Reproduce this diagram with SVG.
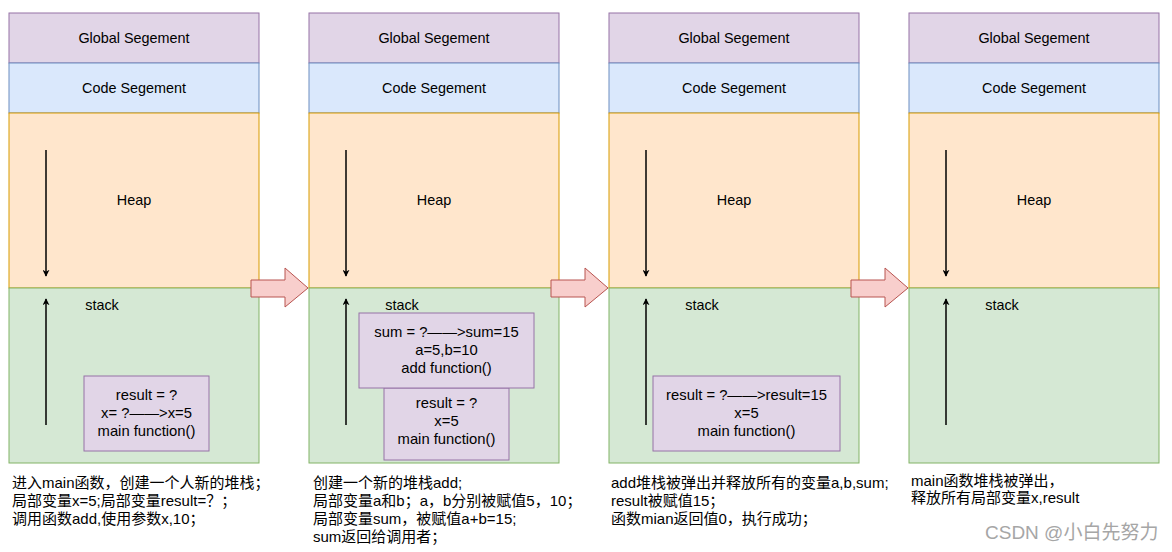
<svg xmlns="http://www.w3.org/2000/svg" width="1172" height="552" viewBox="0 0 1172 552">
<style>
text{font-family:"Liberation Sans","Noto Sans CJK SC",sans-serif;font-size:14.4px;fill:#000}
.c{text-anchor:middle;dominant-baseline:central}
.b{font-size:14.8px}
.g{fill:#e1d5e7;stroke:#9673a6}
.cd{fill:#dae8fc;stroke:#6c8ebf}
.h{fill:#ffe6cc;stroke:#d79b00}
.s{fill:#d5e8d4;stroke:#82b366}
.f{fill:#e1d5e7;stroke:#9673a6}
.fat{fill:#f8cecc;stroke:#b85450}
.ln{stroke:#000;stroke-width:1.5;fill:none;marker-end:url(#ah)}
.d{font-size:15px}
</style>
<defs>
<marker id="ah" viewBox="0 0 10 10" refX="9" refY="5" markerWidth="7" markerHeight="7" orient="auto" markerUnits="userSpaceOnUse">
<path d="M0,0 L10,5 L0,10 L3,5 Z" fill="#000"/>
</marker>
</defs>
<rect width="1172" height="552" fill="#fff"/>

<g id="col1">
<rect class="g" x="9" y="13" width="250" height="50"/><text class="c" x="134" y="38">Global Segement</text>
<rect class="cd" x="9" y="63" width="250" height="50"/><text class="c" x="134" y="88">Code Segement</text>
<rect class="h" x="9" y="113" width="250" height="175"/><text class="c" x="134" y="200">Heap</text>
<rect class="s" x="9" y="288" width="250" height="175"/><text class="c" x="102" y="305">stack</text>
<rect class="f" x="84" y="376" width="125" height="75"/>
<text class="c b" x="146.5" y="395">result = ?</text>
<text class="c b" x="146.5" y="413">x= ?——&gt;x=5</text>
<text class="c b" x="146.5" y="431">main function()</text>
</g>

<g id="col2">
<rect class="g" x="309" y="13" width="250" height="50"/><text class="c" x="434" y="38">Global Segement</text>
<rect class="cd" x="309" y="63" width="250" height="50"/><text class="c" x="434" y="88">Code Segement</text>
<rect class="h" x="309" y="113" width="250" height="175"/><text class="c" x="434" y="200">Heap</text>
<rect class="s" x="309" y="288" width="250" height="175"/><text class="c" x="402" y="305">stack</text>
<rect class="f" x="384" y="388" width="125" height="72"/>
<text class="c b" x="446.5" y="403">result = ?</text>
<text class="c b" x="446.5" y="421">x=5</text>
<text class="c b" x="446.5" y="439">main function()</text>
<rect class="f" x="359" y="313" width="175" height="75"/>
<text class="c b" x="446.5" y="332">sum = ?——&gt;sum=15</text>
<text class="c b" x="446.5" y="350">a=5,b=10</text>
<text class="c b" x="446.5" y="368">add function()</text>
</g>

<g id="col3">
<rect class="g" x="609" y="13" width="250" height="50"/><text class="c" x="734" y="38">Global Segement</text>
<rect class="cd" x="609" y="63" width="250" height="50"/><text class="c" x="734" y="88">Code Segement</text>
<rect class="h" x="609" y="113" width="250" height="175"/><text class="c" x="734" y="200">Heap</text>
<rect class="s" x="609" y="288" width="250" height="175"/><text class="c" x="702" y="305">stack</text>
<rect class="f" x="653" y="376" width="187" height="75"/>
<text class="c b" x="746.5" y="395">result = ?——&gt;result=15</text>
<text class="c b" x="746.5" y="413">x=5</text>
<text class="c b" x="746.5" y="431">main function()</text>
</g>

<g id="col4">
<rect class="g" x="909" y="13" width="250" height="50"/><text class="c" x="1034" y="38">Global Segement</text>
<rect class="cd" x="909" y="63" width="250" height="50"/><text class="c" x="1034" y="88">Code Segement</text>
<rect class="h" x="909" y="113" width="250" height="175"/><text class="c" x="1034" y="200">Heap</text>
<rect class="s" x="909" y="288" width="250" height="175"/><text class="c" x="1002" y="305">stack</text>
</g>

<g id="connectors">
<line class="ln" x1="46" y1="150" x2="46" y2="276"/>
<line class="ln" x1="46" y1="425" x2="46" y2="299"/>
<line class="ln" x1="346" y1="150" x2="346" y2="276"/>
<line class="ln" x1="346" y1="425" x2="346" y2="299"/>
<line class="ln" x1="646" y1="150" x2="646" y2="276"/>
<line class="ln" x1="646" y1="425" x2="646" y2="299"/>
<line class="ln" x1="946" y1="150" x2="946" y2="276"/>
<line class="ln" x1="946" y1="425" x2="946" y2="299"/>
<path class="fat" d="M251,280 L285,280 L285,268 L308,288 L285,307 L285,297 L251,297 Z"/>
<path class="fat" d="M551,280 L585,280 L585,268 L608,288 L585,307 L585,297 L551,297 Z"/>
<path class="fat" d="M851,280 L885,280 L885,268 L908,288 L885,307 L885,297 L851,297 Z"/>
</g>

<g id="notes">
<text class="d" x="12" y="488">进入main函数，创建一个人新的堆栈；</text>
<text class="d" x="12" y="506">局部变量x=5;局部变量result=？；</text>
<text class="d" x="12" y="524">调用函数add,使用参数x,10；</text>
<text class="d" x="313" y="488">创建一个新的堆栈add;</text>
<text class="d" x="313" y="506">局部变量a和b；a，b分别被赋值5，10；</text>
<text class="d" x="313" y="524">局部变量sum，被赋值a+b=15;</text>
<text class="d" x="313" y="542">sum返回给调用者；</text>
<text class="d" x="611" y="488">add堆栈被弹出并释放所有的变量a,b,sum;</text>
<text class="d" x="611" y="506">result被赋值15；</text>
<text class="d" x="611" y="524">函数mian返回值0，执行成功；</text>
<text class="d" x="911" y="486">main函数堆栈被弹出，</text>
<text class="d" x="911" y="503">释放所有局部变量x,result</text>
<text x="985" y="539" style="font-size:19px;fill:#a6a6a6">CSDN @小白先努力</text>
</g>
</svg>
